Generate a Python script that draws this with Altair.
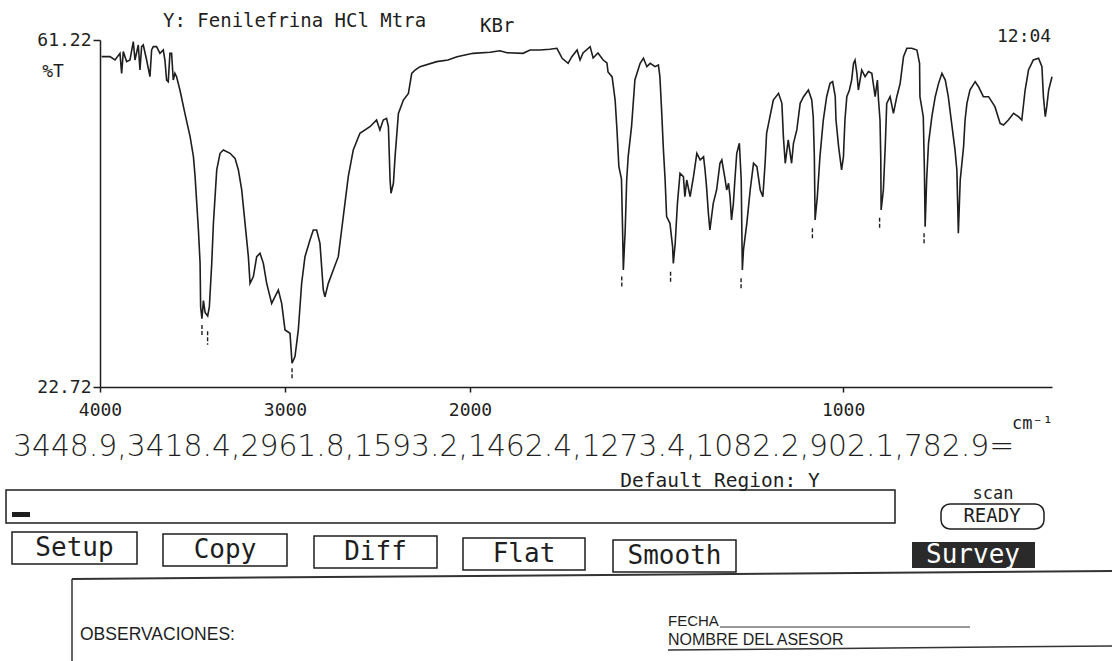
import altair as alt
import pandas as pd

# ---- spectrum (cm-1, %T) ----
WN_A = [3991, 3946, 3919, 3892, 3883, 3874, 3856, 3838, 3820, 3811,
        3793, 3784, 3775, 3766, 3748, 3730, 3721, 3712, 3694, 3676,
        3658, 3649, 3640, 3631, 3622, 3613, 3604, 3595, 3586, 3568,
        3541, 3513, 3495, 3486, 3477, 3468, 3459, 3456, 3449, 3441,
        3432, 3418, 3409, 3396, 3387, 3378, 3369, 3351, 3333, 3297,
        3270, 3252, 3234, 3216, 3198, 3189, 3171, 3153, 3135, 3117,
        3099, 3072, 3054, 3036, 3018, 3000, 2973, 2962, 2946, 2928,
        2910, 2892, 2865, 2847, 2829, 2811, 2793, 2784, 2766, 2739,
        2712, 2694, 2676, 2658, 2631, 2595, 2541, 2505, 2487, 2469,
        2451, 2441, 2432, 2427, 2414, 2405, 2387, 2360, 2333, 2315,
        2297, 2270, 2180, 2119, 2070]
T_A = [59.37, 59.37, 59.00, 59.74, 57.52, 59.93, 58.82, 59.00, 61.04, 59.00,
       60.67, 57.89, 60.48, 60.67, 59.00, 57.15, 60.11, 60.48, 60.48, 59.74,
       60.11, 59.00, 56.78, 56.60, 59.74, 59.74, 56.78, 57.52, 57.15, 55.67,
       53.08, 50.50, 48.28, 46.06, 43.10, 40.14, 36.44, 31.60, 30.30, 32.30,
       31.00, 30.60, 31.60, 36.44, 40.88, 43.84, 46.80, 48.65, 49.02, 48.65,
       48.09, 46.80, 44.58, 40.88, 37.18, 34.22, 34.97, 37.18, 37.55, 36.44,
       34.22, 32.00, 32.74, 33.48, 32.00, 29.05, 28.68, 25.35, 26.10, 29.05,
       34.22, 37.18, 39.03, 40.14, 40.14, 38.66, 33.48, 32.74, 34.22, 35.70,
       37.18, 40.14, 43.10, 46.06, 49.02, 50.87, 51.60, 52.34, 51.24, 52.34,
       52.53, 51.60, 45.69, 44.21, 45.32, 48.28, 53.08, 54.56, 55.30, 57.52,
       57.89, 58.26, 58.82, 59.00, 59.37]

WN_B = [1992, 1946, 1920, 1901, 1858, 1839, 1812, 1786, 1767, 1753,
        1737, 1727, 1713, 1705, 1697, 1678, 1670, 1657, 1643, 1633,
        1630, 1619, 1611, 1606, 1601, 1594, 1591, 1589, 1584, 1580,
        1576, 1567, 1558, 1544, 1535, 1526, 1517, 1504, 1495, 1491,
        1486, 1482, 1477, 1473, 1464, 1457, 1455, 1450, 1444, 1437,
        1428, 1424, 1419, 1410, 1401, 1392, 1383, 1374, 1370, 1366,
        1361, 1357, 1348, 1339, 1330, 1325, 1316, 1312, 1307, 1303,
        1299, 1294, 1290, 1285, 1278, 1273, 1270, 1267, 1258, 1249,
        1240, 1231, 1222, 1215, 1209, 1205, 1196, 1187, 1173, 1164,
        1160, 1155, 1147, 1138, 1133, 1124, 1115, 1106, 1093, 1084,
        1080, 1077, 1075, 1069, 1062, 1053, 1044, 1035, 1028, 1021]
T_B = [59.74, 59.86, 60.03, 59.81, 59.74, 60.11, 60.11, 60.19, 60.30, 59.19,
       58.63, 59.37, 60.11, 59.00, 59.78, 60.48, 59.22, 59.78, 59.00, 58.67,
       57.67, 57.12, 54.56, 51.20, 47.20, 45.80, 40.14, 35.70, 40.14, 45.69,
       48.28, 51.60, 56.78, 58.63, 59.19, 58.26, 58.63, 58.26, 58.45, 57.15,
       53.08, 49.39, 45.69, 41.62, 40.88, 38.29, 36.44, 38.66, 43.10, 46.43,
       46.06, 43.84, 45.69, 43.84, 46.06, 48.65, 47.91, 48.28, 46.80, 44.95,
       41.99, 40.14, 43.10, 44.58, 47.54, 47.91, 45.69, 44.58, 45.32, 43.84,
       41.25, 43.10, 45.69, 48.65, 49.76, 45.69, 35.70, 37.92, 40.88, 44.58,
       47.54, 47.17, 44.58, 43.84, 47.54, 50.87, 52.71, 54.56, 55.30, 54.19,
       50.50, 47.54, 50.13, 47.54, 49.76, 51.24, 54.19, 54.93, 55.67, 54.56,
       52.71, 48.28, 41.25, 43.84, 48.28, 52.34, 54.93, 56.41, 56.60, 54.93]

WN_C = [1019, 1012, 1004, 999, 995, 990, 983, 977, 972, 968,
        963, 959, 950, 941, 932, 923, 914, 908, 905, 901,
        899, 898, 892, 887, 883, 874, 865, 856, 847, 838,
        829, 816, 802, 795, 794, 785, 782, 780, 776, 771,
        762, 753, 744, 735, 726, 718, 709, 700, 695, 691,
        686, 677, 673, 668, 660, 646, 637, 624, 610, 593,
        579, 570, 557, 543, 530, 521, 512, 503, 490, 476,
        467, 463, 458, 454, 449, 440]
T_C = [52.34, 49.39, 46.80, 48.28, 52.34, 54.93, 55.67, 56.78, 58.63, 59.00,
       57.52, 55.67, 57.89, 57.15, 57.71, 57.52, 54.93, 56.78, 54.56, 52.34,
       48.28, 42.36, 44.58, 49.39, 54.19, 54.93, 53.08, 54.93, 56.41, 59.37,
       60.30, 60.30, 60.11, 58.63, 54.93, 52.71, 46.80, 40.51, 45.69, 49.76,
       52.71, 54.93, 56.41, 57.52, 56.78, 54.93, 51.97, 49.02, 46.80, 39.77,
       45.69, 49.39, 52.34, 54.19, 55.67, 56.60, 56.04, 54.93, 54.93, 53.82,
       51.97, 51.79, 52.34, 53.08, 52.71, 52.34, 55.67, 57.89, 59.00, 59.19,
       58.26, 54.93, 52.71, 53.82, 55.67, 57.15]

WAVENUMBER = WN_A + WN_B + WN_C
TRANSMITTANCE = T_A + T_B + T_C

# ---- labelled peaks and their small markers ----
PEAKS = [3448.9, 3418.4, 2961.8, 1593.2, 1462.4, 1273.4, 1082.2, 902.1, 782.9]
PEAK_MARK_TOP = [29.6, 28.9, 24.8, 34.97, 35.52, 34.78, 40.33, 41.5, 39.77]
PEAK_MARK_BOTTOM = [28.5, 27.4, 23.5, 33.67, 34.22, 33.48, 39.22, 40.4, 38.48]

X_TICKS = [4000, 3000, 2000, 1000]
Y_TICKS = [22.72, 61.22]
X_BREAKS = [4000, 2000, 440]
Y_RANGE = [22.72, 61.22]

TITLE = "Y: Fenilefrina HCl Mtra"
SAMPLE = "KBr"
CLOCK = "12:04"
PEAK_TEXT = ",".join(f"{p:.1f}" for p in PEAKS) + "="
BUTTONS = ["Setup", "Copy", "Diff", "Flat", "Smooth"]

MONO = "DejaVu Sans Mono"
PROP = "DejaVu Sans ExtraLight, DejaVu Sans"
SANS = "Liberation Sans, Arial"
INK = "#1e1e1e"

OX, OY = 100, 40  # plot origin in page pixels

spec_df = pd.DataFrame({"wn": WAVENUMBER, "T": TRANSMITTANCE})
peaks_df = pd.DataFrame({"wn": PEAKS, "top": PEAK_MARK_TOP, "bottom": PEAK_MARK_BOTTOM})
one = pd.DataFrame({"k": [0]})

xscale = alt.Scale(domain=X_BREAKS, range=[0, 370, 952], nice=False, zero=False)
yscale = alt.Scale(domain=Y_RANGE, nice=False, zero=False)

x_axis = alt.Axis(values=X_TICKS, format="d", labelFont=MONO, labelFontSize=18,
                  labelColor=INK, tickSize=5, tickColor=INK, tickWidth=1.5,
                  domainColor=INK, domainWidth=1.5, grid=False, title=None,
                  labelPadding=9, labelFlush=False)
y_axis = alt.Axis(values=Y_TICKS, format=".2f", labelFont=MONO, labelFontSize=18,
                  labelColor=INK, tickSize=7, tickColor=INK, tickWidth=1.5,
                  domainColor=INK, domainWidth=1.5, grid=False, title=None,
                  labelPadding=2, labelFlush=False)

line = alt.Chart(spec_df).mark_line(color=INK, strokeWidth=1.6).encode(
    x=alt.X("wn:Q", scale=xscale, axis=x_axis),
    y=alt.Y("T:Q", scale=yscale, axis=y_axis),
)

markers = alt.Chart(peaks_df).mark_rule(color=INK, strokeWidth=1.4, strokeDash=[4, 2]).encode(
    x=alt.X("wn:Q", scale=xscale),
    y=alt.Y("top:Q", scale=yscale),
    y2="bottom:Q",
)


def label(text, x, y, size, font=MONO, align="left", color=INK, weight="normal"):
    return alt.Chart(one).mark_text(
        text=text, align=align, baseline="middle", font=font, fontSize=size,
        color=color, fontWeight=weight,
    ).encode(x=alt.value(x - OX), y=alt.value(y - OY))


def box(x1, y1, x2, y2, fill="transparent", radius=0, width=1.5):
    return alt.Chart(one).mark_rect(
        fill=fill, stroke=INK, strokeWidth=width, cornerRadius=radius,
    ).encode(x=alt.value(x1 - OX), x2=alt.value(x2 - OX),
             y=alt.value(y1 - OY), y2=alt.value(y2 - OY))


def seg(x1, y1, x2, y2, width=1.5, color="#333333"):
    return alt.Chart(one).mark_rule(color=color, strokeWidth=width).encode(
        x=alt.value(x1 - OX), x2=alt.value(x2 - OX),
        y=alt.value(y1 - OY), y2=alt.value(y2 - OY))


layers = [line, markers,
          label(TITLE, 163, 21, 19),
          label(SAMPLE, 480, 26, 19),
          label(CLOCK, 997, 37, 18),
          label("%T", 53, 72, 18, align="center"),
          label("cm⁻¹", 1012, 424, 17),
          label(PEAK_TEXT, 13, 447, 29.8, font=PROP, weight=200),
          label("Default Region: Y", 720, 481, 19.5, align="center"),
          box(6, 490, 895, 523),
          box(12, 512, 30, 517, fill=INK, width=0),
          label("scan", 993, 494, 17, align="center"),
          box(941, 504, 1044, 529, radius=9),
          label("READY", 992, 516, 19, align="center"),
          ]

button_x = [(12, 137), (163, 287), (314, 437), (463, 585), (613, 736)]
button_y = [532, 534, 536, 538, 540]
for name, (bx1, bx2), by in zip(BUTTONS, button_x, button_y):
    layers.append(box(bx1, by, bx2, by + 32))
    layers.append(label(name, (bx1 + bx2) / 2, by + 16, 26, align="center"))

layers += [
    box(912, 542, 1035, 568, fill="#2a2a2a", width=0),
    label("Survey", 973, 555, 26, align="center", color="#ffffff"),
    seg(72, 579, 1112, 571, width=2),
    seg(72, 579, 72, 661, width=1.5),
    label("OBSERVACIONES:", 80, 635, 17.5, font=SANS),
    label("FECHA", 668, 621, 15, font=SANS),
    seg(720, 627, 970, 627, width=1.2),
    label("NOMBRE DEL ASESOR", 668, 640, 16, font=SANS),
    seg(668, 650, 1112, 646, width=1.5),
]

chart = alt.layer(*layers).properties(
    width=952, height=347,
    padding={"left": OX, "top": OY, "right": 60, "bottom": 274},
    autosize=alt.AutoSizeParams(type="none"),
    background="white",
).configure_view(strokeOpacity=0)

chart.save("out.html", embed_options={"renderer": "svg", "actions": False})
